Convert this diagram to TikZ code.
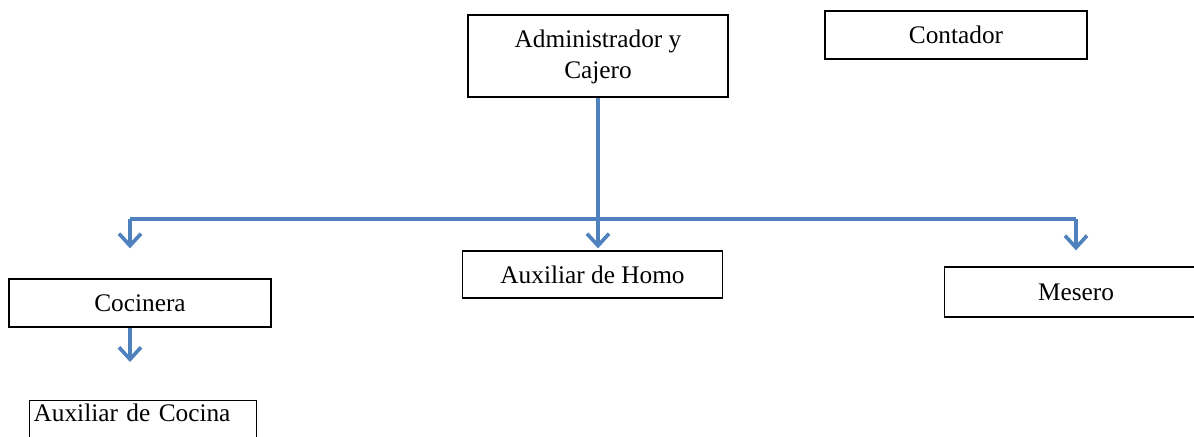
\documentclass[tikz,border=0pt]{standalone}
\usepackage{fontspec}
\setmainfont{Liberation Serif}
\usepackage{tikz}
\usetikzlibrary{arrows.meta}

\definecolor{linkblue}{RGB}{79,129,189}

\tikzset{
	box/.style={draw=black, line width=0.9pt, minimum width=6.5cm, minimum height=1.2cm,
		inner sep=0pt, align=center, font=\fontsize{18}{22}\selectfont},
	link/.style={draw=linkblue, line width=2.6pt},
	arr/.style={link, -{Straight Barb[length=0.3cm, width=0.55cm]}}
}

\begin{document}
\begin{tikzpicture}[x=0.025cm, y=-0.025cm]
	
	\useasboundingbox (0, 0) rectangle (1194, 436);
	\clip (0, 0) rectangle (1194, 436);
	
	\node[box, minimum height=2.05cm, text depth=0.1cm] (admin) at (598, 56) {Administrador y\\Cajero};
	\node[box, minimum width=6.55cm]  (contador) at (956, 35)    {Contador};
	\node[box, minimum width=6.55cm]  (cocinera) at (140, 303)   {Cocinera};
	\node[box, minimum height=1.175cm] (horno)   at (592.5, 274.5) {Auxiliar de Homo};
	\node[box, minimum width=6.575cm, minimum height=1.25cm] (mesero) at (1076, 292) {Mesero};
	\node[box, anchor=north west, minimum width=5.675cm, minimum height=0cm, text width=5.475cm,
		align=left, inner xsep=0.1cm, text height=0.525cm, text depth=1cm] (auxcocina) at (29, 400) {Auxiliar de Cocina};
	
	\coordinate (busL) at (130, 219);
	\coordinate (busR) at (1076, 219);
	
	\draw[link] (busL) -- (busR);
	\draw[arr, shorten >=0.05cm] (admin.south) -- (admin.south |- horno.north);
	\draw[arr, shorten >=0.75cm] (busL) -- (busL |- cocinera.north);
	\draw[arr, shorten >=0.4cm] (busR) -- (busR |- mesero.north);
	\draw[arr, shorten >=0.95cm] (busL |- cocinera.south) -- (busL |- auxcocina.north);
	
\end{tikzpicture}
\end{document}
